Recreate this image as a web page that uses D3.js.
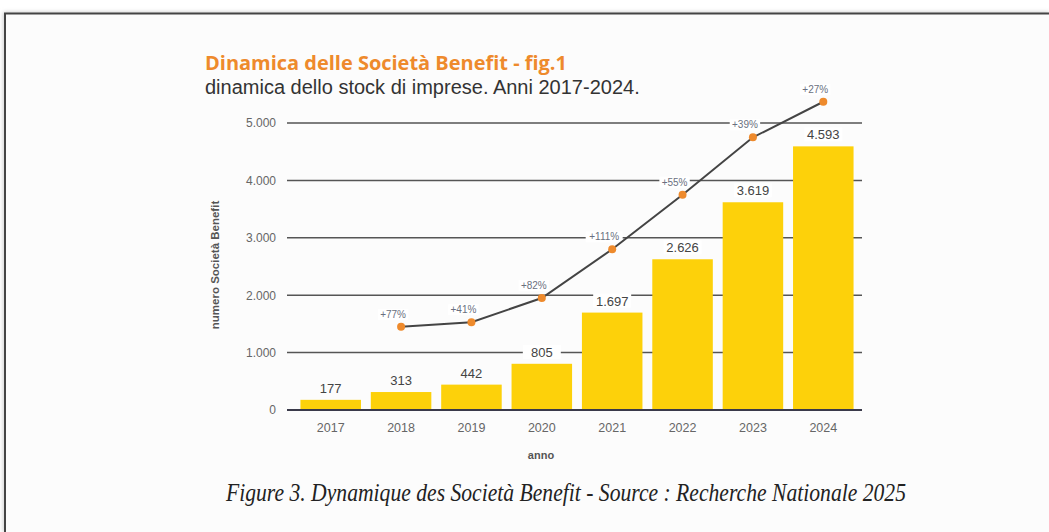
<!DOCTYPE html>
<html><head><meta charset="utf-8">
<script src="https://cdn.jsdelivr.net/npm/d3@7/dist/d3.min.js"></script>
<style>
html,body{margin:0;padding:0;background:#fff;}
svg{display:block;}
</style></head>
<body>
<svg id="chart" width="1049" height="532"></svg>
<script>
const years = ["2017","2018","2019","2020","2021","2022","2023","2024"];
const stock = [177, 313, 442, 805, 1697, 2626, 3619, 4593];
const stockLabels = ["177","313","442","805","1.697","2.626","3.619","4.593"];
const lineValues = [null, 1450, 1530, 1950, 2800, 3750, 4750, 5370];
const growthLabels = [null, "+77%", "+41%", "+82%", "+111%", "+55%", "+39%", "+27%"];
const yTicks = [0, 1000, 2000, 3000, 4000, 5000];
const yTickLabels = ["0", "1.000", "2.000", "3.000", "4.000", "5.000"];

const svg = d3.select("#chart");
const W = 1049, H = 532;
const SANS = "Liberation Sans, Arial, sans-serif";

// frame
const defs = svg.append("defs");
const f = defs.append("filter").attr("id","blur").attr("x","-5%").attr("y","-5%").attr("width","110%").attr("height","110%");
f.append("feGaussianBlur").attr("stdDeviation", 2);
svg.append("rect").attr("x",0).attr("y",0).attr("width",W).attr("height",H).attr("fill","#fff");
svg.append("path").attr("d",`M5,${H} V14 H${W}`).attr("fill","none").attr("stroke","#bbb").attr("stroke-width",3).attr("filter","url(#blur)");
svg.append("rect").attr("x",5).attr("y",14).attr("width",W).attr("height",H).attr("fill","#fcfcfc");
svg.append("path").attr("d",`M5,${H} V13.5 H${W}`).attr("fill","none").attr("stroke","#444").attr("stroke-width",2);

const x = d3.scaleBand().domain(years).range([292, 862]).paddingInner(0.14).paddingOuter(0.12);
const y = d3.scaleLinear().domain([0, 5000]).range([410, 123]);

// gridlines
const grid = svg.append("g");
grid.selectAll("line").data(yTicks.filter(d => d > 0)).join("line")
  .attr("x1", 287).attr("x2", 862)
  .attr("y1", d => y(d)).attr("y2", d => y(d))
  .attr("stroke", "#555").attr("stroke-width", 1.5);

// y axis labels
const yAxis = d3.axisLeft(y).tickValues(yTicks).tickFormat((d,i) => yTickLabels[i]).tickSize(0).tickPadding(0);
const ya = svg.append("g").attr("transform", "translate(276,0)").call(yAxis);
ya.select(".domain").remove();
ya.selectAll("text").attr("font-family",SANS).attr("font-size",12).attr("fill","#666");

// bars
svg.append("g").selectAll("rect").data(years).join("rect")
  .attr("x", d => x(d)).attr("width", x.bandwidth())
  .attr("y", (d,i) => y(stock[i])).attr("height", (d,i) => y(0) - y(stock[i]))
  .attr("fill", "#FDD10A");

// baseline
svg.append("line").attr("x1",287).attr("x2",862).attr("y1",y(0)).attr("y2",y(0))
  .attr("stroke","#3a3a4a").attr("stroke-width",2);

// x axis
const xAxis = d3.axisBottom(x).tickSize(0).tickPadding(0);
const xa = svg.append("g").attr("transform", `translate(0,${y(0)+13})`).call(xAxis);
xa.select(".domain").remove();
xa.selectAll("text").attr("font-family",SANS).attr("font-size",12.5).attr("fill","#666");

// bar value labels with white background
const vl = svg.append("g").selectAll("g").data(years).join("g")
  .attr("transform", (d,i) => `translate(${x(d) + x.bandwidth()/2},${y(stock[i]) - 7})`);
vl.append("rect").attr("x", -19).attr("y", -12).attr("width", 38).attr("height", 14).attr("fill", "#fff")
  .attr("opacity", (d,i) => stock[i] > 700 ? 1 : 0);
vl.append("text").attr("text-anchor","middle")
  .attr("font-family",SANS).attr("font-size",13).attr("fill","#444")
  .text((d,i) => stockLabels[i]);

// line
const pts = years.map((d,i) => ({yr:d, v:lineValues[i], lab:growthLabels[i]})).filter(p => p.v != null);
const line = d3.line().x(p => x(p.yr) + x.bandwidth()/2).y(p => y(p.v));

// growth labels with white backgrounds (drawn before line)
const gl = svg.append("g").selectAll("g").data(pts).join("g")
  .attr("transform", p => `translate(${x(p.yr) + x.bandwidth()/2 - 8},${y(p.v) - 9})`);
gl.append("rect").attr("x", p => -p.lab.length*3.3 - 2).attr("y", -9).attr("width", p => p.lab.length*6.6 + 4).attr("height", 11).attr("fill","#fff");
gl.append("text").attr("text-anchor","middle")
  .attr("font-family",SANS).attr("font-size",10).attr("fill","#6a7080")
  .text(p => p.lab);

svg.append("path").datum(pts).attr("d", line).attr("fill","none").attr("stroke","#444").attr("stroke-width",2);
svg.append("g").selectAll("circle").data(pts).join("circle")
  .attr("cx", p => x(p.yr) + x.bandwidth()/2).attr("cy", p => y(p.v)).attr("r", 4)
  .attr("fill", "#EE8A2C");

function fit(sel, target) {
  const len = sel.node().getComputedTextLength();
  const fs = +sel.attr("font-size");
  sel.attr("font-size", fs * target / len);
}

// titles
const t1 = svg.append("text").attr("x",205).attr("y",70)
  .attr("font-family","Open Sans, DejaVu Sans, sans-serif").attr("font-weight","bold").attr("font-size",16)
  .attr("fill","#EE8A2C").text("Dinamica delle Società Benefit - fig.1");
fit(t1, 362);
const t2 = svg.append("text").attr("x",205).attr("y",94)
  .attr("font-family",SANS).attr("font-size",16)
  .attr("fill","#333").text("dinamica dello stock di imprese. Anni 2017-2024.");
fit(t2, 435);

// axis titles
svg.append("text").attr("transform","translate(219,265) rotate(-90)").attr("text-anchor","middle")
  .attr("font-family",SANS).attr("font-weight","bold").attr("font-size",11.5)
  .attr("fill","#555").text("numero Società Benefit");
svg.append("text").attr("x",541).attr("y",459).attr("text-anchor","middle")
  .attr("font-family",SANS).attr("font-weight","bold").attr("font-size",11)
  .attr("fill","#555").text("anno");

// caption
svg.append("text").attr("x",566).attr("y",501).attr("text-anchor","middle")
  .attr("font-family","Liberation Serif, Times New Roman, serif").attr("font-style","italic").attr("font-size",25)
  .attr("textLength", 680).attr("lengthAdjust","spacingAndGlyphs")
  .attr("fill","#222").text("Figure 3. Dynamique des Società Benefit - Source : Recherche Nationale 2025");
</script>
</body></html>
